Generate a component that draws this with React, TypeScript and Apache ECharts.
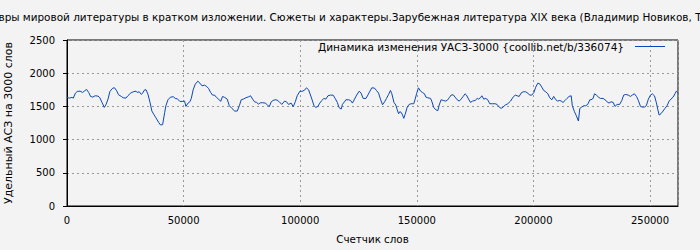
import { useEffect, useRef } from "react";
import * as echarts from "echarts";

const TITLE =
  "Все шедевры мировой литературы в кратком изложении. Сюжеты и характеры.Зарубежная литература XIX века (Владимир Новиков, Татьяна Новикова)";
const SERIES_NAME = "Динамика изменения УАСЗ-3000 {coollib.net/b/336074}";
const X_NAME = "Счетчик слов";
const Y_NAME = "Удельный АСЗ на 3000 слов";

const xTicks = [0, 50000, 100000, 150000, 200000, 250000];
const yTicks = [0, 500, 1000, 1500, 2000, 2500];

const wordCount = [
  0, 1000, 2100, 2700, 3600, 4400, 5600, 6700, 7600, 8400, 9300, 10100, 11000, 12100, 13300, 14100, 15000, 16000,
  16700, 17600, 18400, 19600, 20400, 21300, 22100, 23300, 24100, 25300, 26100, 27300, 28400, 29600, 30100, 31000,
  31900, 32400, 33300, 33900, 34700, 35600, 36400, 37300, 38100, 39300, 40100, 41000, 41900, 42400, 43300, 44400,
  45600, 46400, 47300, 48400, 49600, 50400, 51000,
  51900, 52700, 53300, 54100, 55000, 56100, 57000, 57900, 59000, 59900, 60700, 61600, 62400, 63300, 64100, 65000,
  65900, 66700, 67600, 68700, 69600, 70700, 71900, 73000, 73900, 74700, 75600, 76700, 77900, 78700, 79600, 80400,
  81300, 82100, 83000, 83900, 85000, 85900, 86700, 87600, 88400, 89300, 90100, 91000, 92100, 93300, 94100, 95000,
  96100, 97000, 97900, 98700, 99900, 100700, 101900, 102700, 103600,
  104100, 105000, 105900, 106700, 107600, 108400, 109300, 110100, 111000, 111900, 113000, 114100, 115000, 115900,
  116700, 117600, 118100, 119000, 119600, 120700, 121600, 122400, 123300, 124200, 125300, 126100, 127000, 128200,
  129000, 129900, 130700, 131900, 132700, 133600, 134400, 135300, 136200, 137000, 137900, 138700, 139300, 140200,
  141000, 141600, 142200, 142700, 143300, 143900, 144400, 145000, 145900, 146700, 147600, 148700, 149300, 149900,
  150700, 151600, 152400, 153300, 153900, 154700, 155900,
  156400, 157300, 158200, 159000, 159600, 160400, 161300, 162200, 163000, 163900, 164700, 165600, 166400, 167300,
  168200, 169000, 169900, 170700, 171300, 172200, 173000, 173900, 175000, 175900, 176400, 177300, 177900, 178700,
  179600, 180400, 181300, 182400, 183600, 184400, 185300, 186200, 187000, 187900, 189000, 190200, 191300, 192200,
  193000, 193900, 194700, 195600, 196700, 197600, 198400, 199300, 200200, 201000, 201900, 202700, 203600, 204400,
  205300, 206200, 207000, 207900, 208700,
  209600, 210400, 211300, 211900, 212700, 213600, 214400, 215300, 216200, 216700, 217600, 218400, 219300, 219900,
  220700, 221600, 222400, 223300, 224200, 224700, 225600, 226200, 227000, 227900, 228700, 229900, 230700, 231600,
  232400, 233300, 234200, 235000, 235900, 237000, 237900, 238700, 239600, 240700, 241600, 242400, 243300, 244200,
  245000, 245900, 246700, 247600, 248400, 249300, 250200, 251000, 251900, 252700, 253300, 253900, 254700, 255600,
  256400, 257300, 258200, 259000, 259900, 260700, 261300, 261900,
];

const density = [
  1635, 1625, 1635, 1625, 1700, 1725, 1730, 1710, 1735, 1755, 1710, 1650, 1640, 1660, 1655, 1630, 1560, 1485,
  1525, 1610, 1725, 1775, 1780, 1735, 1675, 1650, 1630, 1625, 1660, 1700, 1720, 1730, 1710, 1720,
  1680, 1700, 1750, 1750, 1685, 1560, 1430, 1375, 1330, 1260, 1220, 1225, 1410, 1510, 1600, 1640,
  1645, 1620, 1615, 1575, 1575, 1580, 1500,
  1550, 1570, 1620, 1750, 1835, 1880, 1850, 1810, 1820, 1800, 1770, 1710, 1670, 1670, 1635, 1610,
  1575, 1650, 1635, 1610, 1510, 1470, 1430, 1430, 1510, 1600, 1610, 1630, 1645, 1660, 1610, 1570,
  1560, 1535, 1555, 1555, 1550, 1525, 1495, 1570, 1590, 1600, 1595, 1570, 1530, 1580, 1570, 1530,
  1550, 1495, 1570, 1660, 1730, 1725, 1745, 1780, 1750,
  1700, 1610, 1510, 1485, 1500, 1550, 1590, 1620, 1610, 1660, 1670, 1670, 1620, 1560,
  1480, 1460, 1530, 1570, 1600, 1600, 1590, 1550, 1610, 1670, 1730, 1700, 1620, 1620,
  1670, 1730, 1780, 1775, 1740, 1700, 1610, 1525, 1570, 1620, 1680, 1740, 1690, 1560,
  1520, 1450, 1390, 1420, 1410, 1370, 1320, 1380, 1490, 1530, 1540, 1540, 1610, 1690,
  1780, 1730, 1710, 1690, 1640, 1630, 1620,
  1580, 1480, 1450, 1435, 1520, 1600, 1590, 1580, 1590, 1630, 1670, 1675, 1640, 1600,
  1580, 1610, 1650, 1690, 1670, 1610, 1560, 1580, 1590, 1620, 1610, 1630, 1660, 1610,
  1620, 1600, 1540, 1540, 1540, 1530, 1490, 1470, 1490, 1520, 1540, 1580, 1640, 1670,
  1660, 1650, 1700, 1720, 1720, 1700, 1670, 1670, 1710, 1790, 1850, 1840, 1790, 1740,
  1720, 1690, 1630, 1600, 1650,
  1600, 1580, 1590, 1580, 1560, 1590, 1620, 1650, 1660, 1510, 1420, 1360, 1280, 1470,
  1490, 1510, 1510, 1530, 1600, 1600, 1620, 1690, 1670, 1640, 1620, 1620, 1600, 1570,
  1550, 1570, 1560, 1500, 1530, 1530, 1590, 1670, 1680, 1670, 1650, 1670, 1690, 1650,
  1590, 1500, 1490, 1490, 1510, 1610, 1670, 1690, 1660, 1560, 1460, 1370, 1390, 1430,
  1470, 1510, 1580, 1610, 1640, 1690, 1730, 1710,
];

const FONT = "DejaVu Sans";
const TITLE_SIZE = 10.45;
const LEGEND_SIZE = 10.5;

export default function App() {
  const ref = useRef<HTMLDivElement>(null);
  useEffect(() => {
    if (!ref.current) return;
    const chart = echarts.init(ref.current, null, { renderer: "svg" });
    const canvas = document.createElement("canvas");
    const ctx = canvas.getContext("2d");
    let offset = 50;
    if (ctx) {
      ctx.font = `${TITLE_SIZE}px "${FONT}"`;
      offset = ctx.measureText("Все шеде").width + 1.5;
    }
    const data = wordCount.map((w, i) => [w, density[i]]);
    const xMax = 262000;
    chart.setOption({
      animation: false,
      backgroundColor: "#f3f3f3",
      textStyle: { fontFamily: FONT, fontSize: 10, color: "#000" },
      title: {
        text: TITLE,
        left: -offset,
        top: 12,
        padding: 0,
        textStyle: { fontFamily: FONT, fontSize: TITLE_SIZE, fontWeight: "normal", color: "#000" },
      },
      legend: {
        data: [{ name: SERIES_NAME, icon: "rect" }],
        top: 41,
        right: 35,
        align: "right",
        itemWidth: 30,
        itemHeight: 1,
        padding: 0,
        textStyle: { fontFamily: FONT, fontSize: LEGEND_SIZE, color: "#000", padding: [0, 6, 0, 0] },
      },
      grid: {
        left: 67,
        right: 22,
        top: 40,
        bottom: 44,
        outerBoundsMode: "none",
        containLabel: false,
        show: true,
        borderColor: "#000",
        borderWidth: 1,
        backgroundColor: "transparent",
      },
      xAxis: {
        type: "value",
        min: xTicks[0],
        max: xMax,
        interval: xTicks[1] - xTicks[0],
        name: X_NAME,
        nameLocation: "middle",
        nameGap: 28,
        nameTextStyle: { fontFamily: FONT, fontSize: 10.3, color: "#000" },
        axisLine: { show: true, lineStyle: { color: "#000", width: 1 } },
        axisTick: { show: false },
        axisLabel: {
          showMaxLabel: false,
          margin: 9,
          fontFamily: FONT,
          fontSize: 10,
          color: "#000",
          formatter: (v: number) => (xTicks.includes(v) ? String(v) : ""),
        },
        splitLine: { show: true, lineStyle: { color: "#999", type: [2, 3], width: 1 } },
      },
      yAxis: {
        type: "value",
        min: yTicks[0],
        max: yTicks[yTicks.length - 1],
        interval: yTicks[1] - yTicks[0],
        name: Y_NAME,
        nameLocation: "middle",
        nameGap: 53,
        nameTextStyle: { fontFamily: FONT, fontSize: 11, color: "#000" },
        axisLine: { show: true, lineStyle: { color: "#000", width: 1 } },
        axisTick: { show: true, inside: false, length: 4, lineStyle: { color: "#000" } },
        axisLabel: {
          margin: 12,
          fontFamily: FONT,
          fontSize: 10,
          color: "#000",
          formatter: (v: number) => String(v),
        },
        splitLine: { show: true, lineStyle: { color: "#999", type: [2, 3], width: 1 } },
      },
      series: [
        {
          name: SERIES_NAME,
          type: "line",
          data,
          symbol: "none",
          showSymbol: false,
          lineStyle: { color: "#0b47b8", width: 1 },
          itemStyle: { color: "#0b47b8" },
        },
      ],
    });
    return () => chart.dispose();
  }, []);
  return <div ref={ref} style={{ position: "fixed", left: 0, top: 0, width: 700, height: 250 }} />;
}
